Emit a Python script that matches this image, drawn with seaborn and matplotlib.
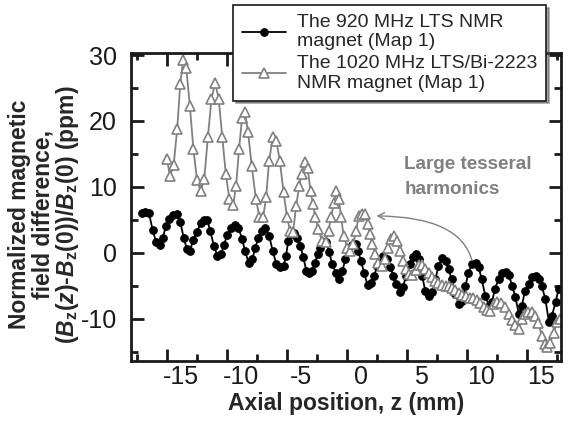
import numpy as np
import pandas as pd
import matplotlib
matplotlib.use('Agg')
import matplotlib.pyplot as plt
import matplotlib.transforms as mtransforms
from matplotlib.ticker import MultipleLocator
import seaborn as sns

# 920 MHz LTS magnet (Map 1): axial position (mm) and field difference (ppm)
z_920 = [-17.1, -16.8, -16.5, -16.2, -15.9, -15.6, -15.35, -15.1, -14.8, -14.5,
         -14.2, -13.9, -13.6, -13.35, -13.1, -12.8, -12.5, -12.2, -11.9, -11.65,
         -11.4, -11.1, -10.8, -10.5, -10.25, -10.0, -9.7, -9.35, -9.05, -8.75,
         -8.5, -8.2, -7.9, -7.65, -7.4, -7.1, -6.8, -6.5, -6.2, -5.9,
         -5.6, -5.3, -5.1, -4.9, -4.7, -4.45, -4.2, -3.9, -3.65, -3.4,
         -3.15, -2.9, -2.7, -2.45, -2.25, -2.0, -1.75, -1.5, -1.25, -0.95,
         -0.65, -0.4, -0.15, 0.1, 0.4, 0.7, 0.9, 1.15, 1.4, 1.7,
         2.0, 2.25, 2.5, 2.75, 3.0, 3.3, 3.6, 3.85, 4.1, 4.4,
         4.65, 4.9, 5.2, 5.5, 5.75, 6.0, 6.25, 6.5, 6.8, 7.1,
         7.35, 7.6, 7.9, 8.2, 8.45, 8.7, 9.0, 9.3, 9.6, 9.85,
         10.1, 10.4, 10.7, 10.95, 11.2, 11.5, 11.8, 12.05, 12.3, 12.6,
         12.9, 13.2, 13.45, 13.75, 14.0, 14.3, 14.55, 14.8, 15.1, 15.4,
         15.7, 15.95, 16.2, 16.5, 16.8, 17.05, 17.35, 17.6]
b_920 = [6.1, 6.2, 6.0, 3.5, 1.6, 1.2, 2.3, 4.0, 5.2, 5.8,
         5.9, 4.7, 2.2, 0.6, 0.3, 2.0, 3.2, 4.5, 5.0, 5.0,
         3.3, 1.1, -0.5, -0.2, 1.2, 2.7, 3.8, 4.2, 3.8, 2.1,
         0.3, -1.6, -1.0, 0.8, 2.2, 3.3, 3.7, 2.6, 0.3, -1.7,
         -2.1, -2.0, -0.5, 1.8, 2.8, 3.0, 2.3, 1.1, -0.7, -2.7,
         -3.1, -2.7, -1.5, -0.2, 0.8, 1.7, 1.6, 0.1, -1.7, -3.0,
         -4.0, -2.7, -1.0, 0.3, 1.2, 1.3, 0.3, -1.2, -3.0, -4.9,
         -4.5, -3.5, -2.0, -1.1, -0.5, -1.0, -2.2, -3.5, -4.7, -6.0,
         -5.2, -3.5, -1.7, -0.7, -0.2, -1.0, -3.5, -5.8, -6.5, -6.0,
         -4.0, -2.0, -0.85, -1.2, -2.5, -4.0, -6.3, -7.7, -7.3, -5.0,
         -3.0, -1.7, -1.5, -2.2, -4.0, -6.5, -8.0, -7.5, -5.5, -4.0,
         -3.1, -2.9, -3.4, -5.0, -6.7, -9.3, -8.0, -5.8, -4.7, -3.6,
         -3.5, -3.9, -5.0, -7.0, -10.5, -9.5, -7.5, -5.5]

# 1020 MHz LTS/Bi-2223 magnet (Map 1)
z_1020 = [-15.0, -14.75, -14.45, -14.15, -13.9, -13.65, -13.4, -13.1, -12.8, -12.5,
          -12.2, -11.9, -11.6, -11.3, -11.0, -10.7, -10.4, -10.1, -9.8, -9.5,
          -9.25, -9.0, -8.75, -8.5, -8.25, -7.95, -7.6, -7.3, -7.0, -6.75,
          -6.5, -6.2, -5.9, -5.6, -5.3, -5.0, -4.75, -4.5, -4.25, -4.0,
          -3.8, -3.55, -3.3, -3.05, -2.85, -2.65, -2.4, -2.1, -1.8, -1.55,
          -1.35, -1.1, -0.9, -0.7, -0.5, -0.3, 0.0, 0.25, 0.5, 0.75,
          0.95, 1.2, 1.45, 1.7, 1.9, 2.1, 2.35, 2.6, 2.9, 3.15,
          3.4, 3.65, 3.9, 4.15, 4.4, 4.65, 4.9, 5.15, 5.4, 5.7,
          5.95, 6.2, 6.5, 6.8, 7.1, 7.35, 7.6, 7.9, 8.2, 8.45,
          8.7, 9.0, 9.3, 9.6, 9.9, 10.2, 10.5, 10.8, 11.1, 11.4,
          11.65, 11.9, 12.2, 12.5, 12.8, 13.1, 13.45, 13.7, 13.95, 14.3,
          14.55, 14.8, 15.05, 15.35, 15.6, 15.9, 16.2, 16.45, 16.65, 16.9,
          17.2, 17.45, 17.7]
b_1020 = [14.2, 11.6, 13.3, 18.8, 25.6, 29.3, 28.1, 22.3, 15.7, 11.0,
          9.4, 11.2, 17.5, 23.3, 25.8, 23.4, 17.6, 11.9, 8.1, 7.2,
          10.1, 15.8, 20.5, 21.3, 18.3, 13.2, 8.2, 5.4, 5.4, 8.4,
          13.9, 17.5, 17.0, 13.9, 9.2, 5.4, 3.3, 3.2, 7.1, 10.1,
          11.9, 13.8, 12.9, 9.4, 7.4, 5.4, 3.6, 1.8, 1.6, 3.3,
          5.4, 7.6, 9.4, 8.1, 5.4, 2.6, 0.8, 0.3, 1.3, 3.3,
          5.6, 5.9, 5.9, 4.3, 2.8, 1.3, -0.2, -1.5, -2.0, -1.0,
          0.8, 2.1, 2.6, 1.8, 0.3, -1.2, -2.5, -3.2, -3.4, -2.6,
          -1.9, -1.8, -2.4, -3.0, -3.6, -4.2, -4.5, -4.8, -5.0, -5.1,
          -5.3, -5.7, -6.1, -6.4, -6.6, -6.8, -6.9, -7.1, -7.6, -8.2,
          -8.7, -8.8, -7.8, -7.5, -7.6, -8.2, -9.3, -10.2, -11.0, -11.6,
          -10.0, -9.3, -9.0, -9.0, -9.6, -10.6, -12.6, -13.8, -14.3, -13.6,
          -12.1, -10.5, -10.0]

label_920 = 'The 920 MHz LTS NMR\nmagnet (Map 1)'
label_1020 = 'The 1020 MHz LTS/Bi-2223\nNMR magnet (Map 1)'

df920 = pd.DataFrame({'z': z_920, 'b': b_920})
df1020 = pd.DataFrame({'z': z_1020, 'b': b_1020})

sns.set_theme(style='ticks')
plt.rcParams['font.family'] = ['Liberation Sans', 'DejaVu Sans']
plt.rcParams['axes.unicode_minus'] = False
plt.rcParams['mathtext.fontset'] = 'custom'
plt.rcParams['mathtext.bf'] = 'Liberation Sans:bold'
plt.rcParams['mathtext.it'] = 'Liberation Sans:italic'
plt.rcParams['mathtext.bfit'] = 'Liberation Sans:italic:bold'

grey = '#808080'

fig = plt.figure(figsize=(5.68, 4.21), dpi=100)
ax = fig.add_axes([0.2306, 0.1425, 0.757, 0.7323])

sns.lineplot(data=df920, x='z', y='b', ax=ax, color='black', marker='o',
             markersize=5.5, markeredgecolor='black', linewidth=1.3,
             estimator=None, sort=False, label=label_920)
sns.lineplot(data=df1020, x='z', y='b', ax=ax, color=grey, marker='^',
             markersize=6.5, markerfacecolor='white', markeredgecolor=grey,
             markeredgewidth=1.2, linewidth=1.3, estimator=None, sort=False,
             label=label_1020)

ax.set_xlim(-18.0, 17.8)
ax.set_ylim(-16.4, 30.35)
ax.xaxis.set_major_locator(MultipleLocator(5))
ax.xaxis.set_minor_locator(MultipleLocator(2.5))
ax.yaxis.set_major_locator(MultipleLocator(10))
ax.yaxis.set_minor_locator(MultipleLocator(5))
ax.tick_params(which='both', direction='in', top=True, right=True, width=2,
               color='#1a1a1a', labelsize=18, labelcolor='#1a1a1a')
ax.tick_params(which='major', length=9)
ax.tick_params(which='minor', length=5)
ax.tick_params(axis='y', pad=10)
ax.tick_params(axis='x', pad=3)
for sp in ax.spines.values():
    sp.set_linewidth(2)
    sp.set_color('#1a1a1a')

# tick labels sit a little to the right of the ticks in the original
shift = mtransforms.ScaledTranslation(0.14, 0, fig.dpi_scale_trans)
for lab in ax.get_xticklabels():
    lab.set_transform(lab.get_transform() + shift)

ax.set_xlabel('Axial position, z (mm)', fontsize=16.5, fontweight='bold',
              labelpad=2)
ax.set_ylabel('Normalized magnetic\nfield difference,\n'
              r'($\mathbfit{B}_\mathbf{z}$($\mathbfit{z}$)-$\mathbfit{B}_\mathbf{z}$(0))/'
              r'$\mathbfit{B}_\mathbf{z}$(0) (ppm)',
              fontsize=16.5, fontweight='bold', linespacing=1.0)
ax.yaxis.set_label_coords(-0.116, 0.475)

ax.text(4.75, 11.5, 'Large tesseral\nharmonics', fontsize=13.6,
        fontweight='bold', color=grey, ha='left', va='center',
        linespacing=1.6)
ax.annotate('', xy=(2.2, 5.6), xytext=(10.4, -1.2),
            arrowprops=dict(arrowstyle='->', color=grey, lw=1,
                            shrinkA=0, shrinkB=2,
                            connectionstyle='angle3,angleA=105,angleB=0'))

leg = ax.legend(loc='upper left', bbox_to_anchor=(0.41, 0.988),
                bbox_transform=fig.transFigure, fontsize=14, frameon=True,
                fancybox=False, shadow=True, framealpha=1, borderpad=0.45,
                labelspacing=0.25, handlelength=2.3, handletextpad=0.55,
                borderaxespad=0)
leg.get_frame().set_edgecolor('#1a1a1a')
leg.get_frame().set_linewidth(1.2)

fig.savefig('out.png', dpi=100)
